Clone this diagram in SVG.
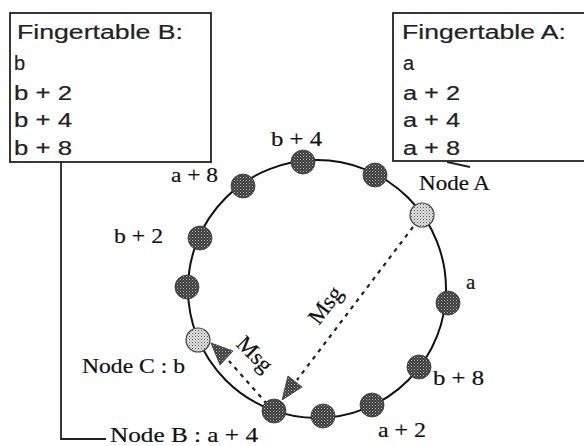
<svg xmlns="http://www.w3.org/2000/svg" width="584" height="446" viewBox="0 0 584 446">
<defs>
<pattern id="dk" width="3" height="3" patternUnits="userSpaceOnUse">
<rect width="3" height="3" fill="#3a3a3a"/>
<rect x="0" y="0" width="1" height="1" fill="#bdbdbd"/>
<rect x="1.5" y="1.5" width="1" height="1" fill="#9a9a9a"/>
</pattern>
<pattern id="lt" width="3" height="3" patternUnits="userSpaceOnUse">
<rect width="3" height="3" fill="#e2e2e2"/>
<rect x="0" y="0" width="1" height="1" fill="#555"/>
<rect x="1.5" y="1.5" width="1" height="1" fill="#888"/>
</pattern>
</defs>
<style>
.box{fill:#fff;stroke:#222;stroke-width:1.8}
.sans{font-family:"Liberation Sans",Arial,sans-serif;font-size:20px;fill:#222;stroke:#222;stroke-width:0.2}
.serif{font-family:"Liberation Serif","Times New Roman",serif;font-size:21px;fill:#111;stroke:#111;stroke-width:0.2}
.ring{fill:none;stroke:#111;stroke-width:2}
.dk{fill:url(#dk);stroke:#333;stroke-width:0.8}
.lt{fill:url(#lt);stroke:#444;stroke-width:1.2}
.lead{fill:none;stroke:#222;stroke-width:1.8}
.msg{fill:none;stroke:#222;stroke-width:2.2;stroke-dasharray:4 5}
.head{fill:url(#dk);stroke:#333;stroke-width:0.8}
</style>
<rect width="584" height="446" fill="#fff"/>

<g id="fingertable-b">
<rect class="box" x="10" y="13" width="201" height="149"/>
<text class="sans" x="17" y="39" textLength="166" lengthAdjust="spacingAndGlyphs">Fingertable  B:</text>
<text class="sans" x="14" y="70">b</text>
<text class="sans" x="14" y="100" textLength="58" lengthAdjust="spacingAndGlyphs">b + 2</text>
<text class="sans" x="14" y="127" textLength="58" lengthAdjust="spacingAndGlyphs">b + 4</text>
<text class="sans" x="14" y="155" textLength="58" lengthAdjust="spacingAndGlyphs">b + 8</text>
</g>

<g id="fingertable-a">
<rect class="box" x="393" y="13" width="200" height="148"/>
<text class="sans" x="402" y="39" textLength="164" lengthAdjust="spacingAndGlyphs">Fingertable  A:</text>
<text class="sans" x="403" y="70">a</text>
<text class="sans" x="403" y="100" textLength="57" lengthAdjust="spacingAndGlyphs">a + 2</text>
<text class="sans" x="403" y="127" textLength="57" lengthAdjust="spacingAndGlyphs">a + 4</text>
<text class="sans" x="403" y="155" textLength="57" lengthAdjust="spacingAndGlyphs">a + 8</text>
</g>

<g id="ring">
<circle class="ring" cx="317" cy="289" r="129"/>
</g>

<g id="connectors">
<polyline class="lead" points="61,162 61,439 106,439"/>
<line class="lead" x1="447" y1="162" x2="470" y2="167"/>
<line class="msg" x1="413" y1="227" x2="297" y2="380"/>
<polygon class="head" points="282,400 302,387 288,376"/>
<line class="msg" x1="267" y1="404" x2="229" y2="361"/>
<polygon class="head" points="211,343 233,351 220,365"/>
</g>

<g id="node-b4"><circle class="dk" cx="303" cy="162" r="12"/><text class="serif" x="271" y="146" textLength="51" lengthAdjust="spacingAndGlyphs">b + 4</text></g>
<g id="node-a8"><circle class="dk" cx="243" cy="186" r="12"/><text class="serif" x="171" y="182" textLength="47" lengthAdjust="spacingAndGlyphs">a + 8</text></g>
<g id="node-b2"><circle class="dk" cx="200" cy="238" r="12"/><text class="serif" x="114" y="243" textLength="49" lengthAdjust="spacingAndGlyphs">b + 2</text></g>
<g id="node-left"><circle class="dk" cx="187" cy="287" r="12"/></g>
<g id="node-c"><circle class="lt" cx="198" cy="340" r="12"/><text class="serif" x="82" y="373" textLength="103" lengthAdjust="spacingAndGlyphs">Node C : b</text></g>
<g id="node-b"><circle class="dk" cx="274" cy="411" r="12"/><text class="serif" x="110" y="442" textLength="148" lengthAdjust="spacingAndGlyphs">Node B : a + 4</text></g>
<g id="node-bottom"><circle class="dk" cx="323" cy="416" r="12"/></g>
<g id="node-a2"><circle class="dk" cx="372" cy="405" r="12"/><text class="serif" x="378" y="437" textLength="48" lengthAdjust="spacingAndGlyphs">a + 2</text></g>
<g id="node-b8"><circle class="dk" cx="419" cy="367" r="12"/><text class="serif" x="433" y="385" textLength="51" lengthAdjust="spacingAndGlyphs">b + 8</text></g>
<g id="node-a-succ"><circle class="dk" cx="448" cy="303" r="12"/><text class="serif" x="466" y="289">a</text></g>
<g id="node-a"><circle class="lt" cx="422" cy="215" r="12"/><text class="serif" x="419" y="190" textLength="71" lengthAdjust="spacingAndGlyphs">Node A</text></g>
<g id="node-top-right"><circle class="dk" cx="375" cy="175" r="12"/></g>

<g id="msg-labels">
<text class="serif" style="font-size:23px" transform="translate(319,326) rotate(-53)">Msg</text>
<text class="serif" style="font-size:23px" transform="translate(235,345) rotate(45)">Msg</text>
</g>
</svg>
